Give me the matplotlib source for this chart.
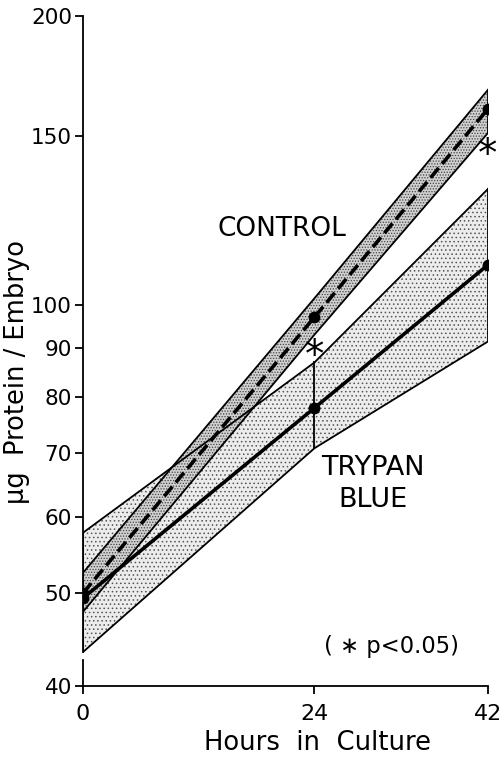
import numpy as np
import matplotlib
matplotlib.use("Agg")
import matplotlib.pyplot as plt

# ── Datos ────────────────────────────────────────────────────────────────────
hours = [0, 24, 42]

control_mean = [50.0, 97.0, 160.0]
control_hi = [52.5, 101.5, 167.5]
control_lo = [47.8, 93.0, 151.0]

trypan_mean = [49.4, 78.0, 110.0]
trypan_hi = [57.8, 87.0, 132.0]
trypan_lo = [43.4, 70.8, 91.5]

y_ticks = [40, 50, 60, 70, 80, 90, 100, 150, 200]
x_ticks = [0, 24, 42]

plt.rcParams["font.family"] = ["DejaVu Sans"]
plt.rcParams["hatch.linewidth"] = 0.6

fig = plt.figure(figsize=(5.01, 7.59), dpi=100)
ax = fig.add_axes([0.1657, 0.0962, 0.8083, 0.8828])

# ── Bandas ───────────────────────────────────────────────────────────────────
ax.fill_between(hours, trypan_lo, trypan_hi, facecolor="#ececec",
                edgecolor="#555555", hatch="....", linewidth=0, zorder=1)
ax.fill_between(hours, control_lo, control_hi, facecolor="#d0d0d0",
                edgecolor="#444444", hatch="......", linewidth=0, zorder=2)

for lo, hi, z in [(trypan_lo, trypan_hi, 3), (control_lo, control_hi, 4)]:
    ax.plot(hours, hi, color="black", lw=1.3, zorder=z)
    ax.plot(hours, lo, color="black", lw=1.3, zorder=z)
    ax.plot([hours[-1], hours[-1]], [lo[-1], hi[-1]], color="black", lw=1.3, zorder=z)
    ax.plot([hours[0], hours[0]], [lo[0], hi[0]], color="black", lw=1.3, zorder=z)
# barra vertical a las 24 h (trypan)
ax.plot([24, 24], [trypan_lo[1], trypan_hi[1]], color="black", lw=1.3, zorder=3)

# ── Líneas medias ────────────────────────────────────────────────────────────
ax.plot(hours, trypan_mean, color="black", lw=2.6, marker="o", ms=7.5, zorder=5)
ax.plot(hours, control_mean, color="black", lw=2.6, ls=(0, (3.5, 1.5)),
        marker="o", ms=7.5, zorder=6)

# asteriscos de significancia
ax.text(24, 86.1, "*", ha="center", va="baseline", fontsize=28, zorder=8)
ax.text(42, 139.6, "*", ha="center", va="baseline", fontsize=28, zorder=8)

# ── Textos ───────────────────────────────────────────────────────────────────
ax.text(13.9, 120.0, "CONTROL", fontsize=19, ha="left", va="center")
ax.text(24.7, 67.5, "TRYPAN", fontsize=19.5, ha="left", va="center")
ax.text(26.5, 62.5, "BLUE", fontsize=19.5, ha="left", va="center")
ax.text(25.0, 44.0, "( \u2217 p<0.05)", fontsize=16.3, ha="left", va="center")

# ── Ejes ─────────────────────────────────────────────────────────────────────
ax.set_yscale("log")
ax.set_xlim(0, 42)
ax.set_ylim(40, 200)
ax.set_yticks(y_ticks)
ax.set_yticklabels([str(v) for v in y_ticks])
ax.yaxis.set_minor_locator(matplotlib.ticker.NullLocator())
ax.set_xticks(x_ticks)
ax.set_xticklabels([str(v) for v in x_ticks])
ax.tick_params(axis="both", direction="out", length=6, width=1.3)
ax.tick_params(axis="x", pad=7, labelsize=16)
ax.tick_params(axis="y", pad=2, labelsize=15.5)

ax.spines["top"].set_visible(False)
ax.spines["right"].set_visible(False)
ax.spines["left"].set_linewidth(1.3)
ax.spines["bottom"].set_linewidth(1.3)
ax.spines["left"].set_bounds(43.4, 200)
# tramo corto del eje cortado
ax.plot([0, 0], [40, 42.6], color="black", lw=1.3, clip_on=False, zorder=7)

ax.set_xlabel("Hours  in  Culture", fontsize=18.6)
ax.xaxis.set_label_coords(0.58, -0.066)
ax.set_ylabel("\u03bcg  Protein / Embryo", fontsize=18.5)
ax.yaxis.set_label_coords(-0.130, 0.469)

fig.savefig("out.png", dpi=100)
